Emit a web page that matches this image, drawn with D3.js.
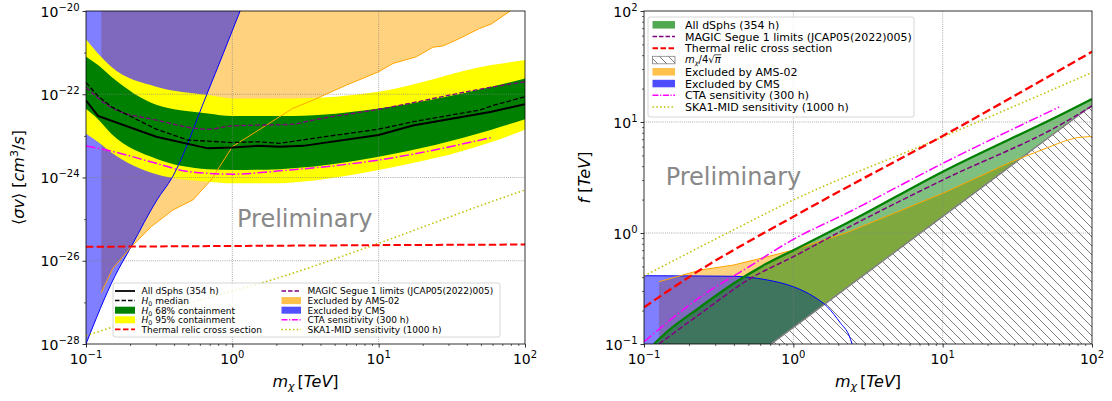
<!DOCTYPE html>
<html><head><meta charset="utf-8">
<script src="https://cdn.jsdelivr.net/npm/d3@7"></script>
<style>body{margin:0;background:#fff}svg{display:block}text{font-family:"DejaVu Sans",sans-serif}</style>
</head><body><svg id="c" width="1112" height="401"></svg>
<script>
// ---------------- LEFT PANEL DATA (log10 m [TeV], log10 <sigma v> [cm^3/s]) ----------------
const bandLogM=[-1,-0.918,-0.827,-0.52,-0.167,0,0.324,0.413,1.0,1.771,2.0];
const y95Hi=[-20.68,-21.02,-21.34,-21.82,-22.02,-22.10,-22.10,-22.10,-21.94,-21.30,-21.18];
const g68Hi=[-21.10,-21.30,-21.58,-22.25,-22.46,-22.52,-22.52,-22.52,-22.34,-21.82,-21.62];
const g68Lo=[-22.35,-22.60,-22.95,-23.55,-23.80,-23.82,-23.80,-23.78,-23.50,-22.85,-22.60];
const y95Lo=[-22.95,-23.15,-23.40,-23.92,-24.10,-24.14,-24.14,-24.12,-23.82,-23.15,-22.85];

const allLogM=[-1,-0.918,-0.52,-0.167,0,0.174,0.324,0.483,1.0,1.234,1.771,2.0];
const allSv=[-22.15,-22.52,-23.02,-23.30,-23.28,-23.24,-23.26,-23.24,-22.98,-22.75,-22.42,-22.24];

const medLogM=[-1,-0.918,-0.827,-0.52,-0.304,0,0.174,0.324,0.552,1.0,1.234,1.689,1.771,2.0];
const medSv=[-21.72,-22.04,-22.30,-22.84,-23.10,-23.16,-23.14,-23.18,-23.06,-22.84,-22.66,-22.38,-22.28,-22.06];

const magicLogM=[-1,-0.827,-0.52,-0.167,0,0.413,0.552,1.0,1.771,2.0];
const magicSv=[-21.83,-22.32,-22.62,-22.84,-22.76,-22.72,-22.62,-22.36,-21.83,-21.70];

const ctaLogM=[-1,-0.81,-0.52,-0.3,0,0.324,1.0,1.771];
const ctaSv=[-23.24,-23.38,-23.66,-23.86,-23.92,-23.84,-23.58,-23.04];

const relicLogM=[-1,0,1,2];
const relicSv=[-25.665,-25.645,-25.625,-25.61];

const skaLogM=[-1,-0.372,0.324,1.0,1.771,2.0];
const skaSv=[-27.8,-27.10,-26.40,-25.58,-24.58,-24.3];

const cmsLogM=[-1,-0.804,-0.691,-0.515,-0.411,-0.174,0.053];
const cmsSv=[-28,-26.38,-25.66,-24.54,-24.0,-22.0,-20.0];

const amsLogM=[-0.896,-0.816,-0.689,-0.554,-0.406,-0.27,-0.145,0,0.413,0.552,0.78,1.0,1.098,1.257,1.371,1.439,1.553,1.689,1.771,1.899];
const amsSv=[-26.77,-26.18,-25.66,-25.18,-24.78,-24.54,-24.06,-23.26,-22.34,-22.14,-21.78,-21.46,-21.26,-21.10,-20.87,-20.84,-20.66,-20.42,-20.31,-20.0];

// ---------------- RIGHT PANEL DATA (log10 m [TeV], log10 f [TeV]) ----------------
const rAllLogM=[-0.933,-0.844,-0.62,-0.398,-0.175,0.004,0.36,1.0,1.805,2.0];
const rAllF=[-1.0,-0.889,-0.664,-0.453,-0.273,-0.153,0.09,0.552,1.075,1.207];
const rMagicLogM=[-0.9,-0.62,-0.286,-0.001,0.36,1.0,1.805,2.0];
const rMagicF=[-1.0,-0.724,-0.408,-0.214,0.045,0.477,0.988,1.144];
const rCtaLogM=[-1,-0.62,-0.297,0.0,0.36,1.0,1.78];
const rCtaF=[-0.98,-0.574,-0.304,-0.057,0.18,0.627,1.135];
const rRelicLogM=[-1,-0.677,0.0,0.36,1.0,1.55,2.0];
const rRelicF=[-0.67,-0.378,0.147,0.413,0.874,1.288,1.633];
const rSkaLogM=[-1,-0.5,0,1,2];
const rSkaF=[-0.387,-0.04,0.297,0.865,1.446];
const rAmsLogM=[-0.9,-0.62,-0.398,-0.175,0.0,0.36,1.0,1.461,1.805,1.9,2.0];
const rAmsF=[-0.439,-0.333,-0.288,-0.214,-0.153,0.005,0.357,0.642,0.823,0.86,0.87];
const rCmsLogM=[-1,-0.4,-0.175,0.0,0.138,0.227,0.317,0.372,0.394];
const rCmsF=[-0.385,-0.39,-0.423,-0.484,-0.574,-0.664,-0.814,-0.919,-1.0];
const unitarityM=[0.1,100];        // m_chi / 4 sqrt(pi)
const unitarityF=[0.0141,14.1];

// tick labels
const xTickExp=[-1,0,1,2];
const yTickExpL=[-28,-26,-24,-22,-20];
const yTickExpR=[-1,0,1,2];

// ---------------- SETUP ----------------
const svg=d3.select("#c");
const defs=svg.append("defs");
const P=v=>Math.pow(10,v);
const zip=(a,b)=>a.map((v,i)=>[v,b[i]]);

const xL=d3.scaleLog().domain([0.1,100]).range([86,525]);
const yL=d3.scaleLog().domain([1e-28,1e-20]).range([344,11]);
const xR=d3.scaleLog().domain([0.1,100]).range([644,1092]);
const yR=d3.scaleLog().domain([0.1,100]).range([344,11]);

function clip(id,x,y){defs.append("clipPath").attr("id",id).append("rect")
  .attr("x",x.range()[0]).attr("y",y.range()[1]).attr("width",x.range()[1]-x.range()[0]).attr("height",y.range()[0]-y.range()[1]);}
clip("cl",xL,yL);clip("cr",xR,yR);

const pat=defs.append("pattern").attr("id","hatch").attr("patternUnits","userSpaceOnUse").attr("width",9).attr("height",9);
pat.append("rect").attr("width",9).attr("height",9).attr("fill","#fff");
pat.append("path").attr("d","M-2,-2L11,11M-2,7L2,11M7,-2L11,2").attr("stroke","#7c7c7c").attr("stroke-width",1);

function lineGen(x,y,curve){return d3.line().x(d=>x(P(d[0]))).y(d=>y(P(d[1]))).curve(curve||d3.curveLinear);}

function drawLine(g,x,y,pts,st,curve){
  g.append("path").attr("d",lineGen(x,y,curve)(pts)).attr("fill","none")
   .attr("stroke",st.c).attr("stroke-width",st.w).attr("stroke-dasharray",st.d||null);
}

const ST={
  all:{c:"#000",w:2},
  med:{c:"#000",w:1.3,d:"4.8,2.1"},
  magic:{c:"#800080",w:1.3,d:"4.8,2.1"},
  relic:{c:"#ff0000",w:2,d:"7.4,3.2"},
  cta:{c:"#ff00ff",w:1.5,d:"9.6,2.4,1.5,2.4"},
  ska:{c:"#bfbf00",w:1.5,d:"1.5,2.5"},
  cms:{c:"#0000ff",w:1},
  ams:{c:"#ffa500",w:1}
};

function grid(g,x,y,xs,ys){
  xs.forEach(v=>g.append("line").attr("x1",x(v)).attr("x2",x(v)).attr("y1",y.range()[0]).attr("y2",y.range()[1])
    .attr("stroke","#808080").attr("stroke-width",0.8).attr("stroke-dasharray","0.8,1.3"));
  ys.forEach(v=>g.append("line").attr("y1",y(v)).attr("y2",y(v)).attr("x1",x.range()[0]).attr("x2",x.range()[1])
    .attr("stroke","#808080").attr("stroke-width",0.8).attr("stroke-dasharray","0.8,1.3"));
}

function pow10(g,x,y,e,anchor){
  const t=g.append("text").attr("x",x).attr("y",y).attr("text-anchor",anchor).attr("font-size",14).attr("fill","#000");
  t.append("tspan").text("10");
  t.append("tspan").attr("dy",-6).attr("font-size",10).text(e<0?"\u2212"+(-e):String(e));
}

function axes(x,y,yMajorExp,yMinor){
  const g=svg.append("g");
  const minorX=[];for(let d=-1;d<2;d++)for(let k=2;k<10;k++)minorX.push(k*P(d));
  const ax=d3.axisBottom(x).tickValues(xTickExp.map(P)).tickSize(3.5).tickFormat("");
  const axm=d3.axisBottom(x).tickValues(minorX).tickSize(2).tickFormat("");
  const gx=g.append("g").attr("transform",`translate(0,${y.range()[0]})`).call(ax);
  const gxm=g.append("g").attr("transform",`translate(0,${y.range()[0]})`).call(axm);
  const ay=d3.axisLeft(y).tickValues(yMajorExp.map(P)).tickSize(3.5).tickFormat("");
  const aym=d3.axisLeft(y).tickValues(yMinor).tickSize(2).tickFormat("");
  const gy=g.append("g").attr("transform",`translate(${x.range()[0]},0)`).call(ay);
  const gym=g.append("g").attr("transform",`translate(${x.range()[0]},0)`).call(aym);
  [gx,gxm,gy,gym].forEach(s=>{s.select(".domain").remove();});
  [gx,gy].forEach(s=>s.selectAll(".tick line").attr("stroke-width",0.8));
  [gxm,gym].forEach(s=>s.selectAll(".tick line").attr("stroke-width",0.6));
  g.append("rect").attr("x",x.range()[0]).attr("y",y.range()[1]).attr("width",x.range()[1]-x.range()[0])
    .attr("height",y.range()[0]-y.range()[1]).attr("fill","none").attr("stroke","#000").attr("stroke-width",0.8);
  xTickExp.forEach(e=>pow10(g,x(P(e)),364,e,"middle"));
  yMajorExp.forEach(e=>pow10(g,x.range()[0]-6.5,y(P(e))+5.5,e,"end"));
}

// ---------------- LEFT PANEL ----------------
const gLeft=svg.append("g").attr("clip-path","url(#cl)");
const topY=yL.range()[1];
// AMS-02 excluded region (above line)
gLeft.append("path").attr("d",d3.area().x(d=>xL(P(d[0]))).y0(d=>yL(P(d[1]))).y1(topY)(zip(amsLogM,amsSv)))
 .attr("fill","#ffa500").attr("fill-opacity",0.5);
// CMS excluded region (left of line)
gLeft.append("path").attr("d",d3.area().x(d=>xL(P(d[0]))).y0(d=>yL(P(d[1]))).y1(topY).curve(d3.curveMonotoneX)(zip(cmsLogM,cmsSv)))
 .attr("fill","#0000ff").attr("fill-opacity",0.5);
// containment bands
const bandArea=(lo,hi)=>d3.area().x(d=>xL(P(d[0]))).y0(d=>yL(P(d[1]))).y1(d=>yL(P(d[2]))).curve(d3.curveMonotoneX)
  (bandLogM.map((m,i)=>[m,lo[i],hi[i]]));
gLeft.append("path").attr("d",bandArea(y95Lo,y95Hi)).attr("fill","#ffff00");
gLeft.append("path").attr("d",bandArea(g68Lo,g68Hi)).attr("fill","#008000");
grid(gLeft,xL,yL,[1,10],[1e-26,1e-24,1e-22]);
drawLine(gLeft,xL,yL,zip(cmsLogM,cmsSv),ST.cms,d3.curveMonotoneX);
drawLine(gLeft,xL,yL,zip(amsLogM,amsSv),ST.ams);
drawLine(gLeft,xL,yL,zip(skaLogM,skaSv),ST.ska,d3.curveMonotoneX);
drawLine(gLeft,xL,yL,zip(relicLogM,relicSv),ST.relic);
drawLine(gLeft,xL,yL,zip(ctaLogM,ctaSv),ST.cta,d3.curveMonotoneX);
drawLine(gLeft,xL,yL,zip(magicLogM,magicSv),ST.magic,d3.curveMonotoneX);
drawLine(gLeft,xL,yL,zip(medLogM,medSv),ST.med);
drawLine(gLeft,xL,yL,zip(allLogM,allSv),ST.all);

svg.append("text").attr("x",237).attr("y",226.7).attr("font-size",24).attr("fill","#888").text("Preliminary");

axes(xL,yL,yTickExpL,[1e-27,1e-25,1e-23,1e-21]);

// ---------------- RIGHT PANEL ----------------
const gRight=svg.append("g").attr("clip-path","url(#cr)");
const botY=yR.range()[0];
gRight.append("path").attr("d",d3.area().x(d=>xR(P(d[0]))).y0(botY).y1(d=>yR(P(d[1])))(zip(rAmsLogM,rAmsF)))
 .attr("fill","#ffa500").attr("fill-opacity",0.5);
gRight.append("path").attr("d",d3.area().x(d=>xR(P(d[0]))).y0(botY).y1(d=>yR(P(d[1]))).curve(d3.curveMonotoneX)(zip(rCmsLogM,rCmsF)))
 .attr("fill","#0000ff").attr("fill-opacity",0.5);
const uniPts=unitarityM.map((m,i)=>[Math.log10(m),Math.log10(unitarityF[i])]);
const greenPoly=zip(rAllLogM,rAllF).concat(uniPts.slice().reverse());
gRight.append("path").attr("d",lineGen(xR,yR)(greenPoly)+"Z").attr("fill","#008000").attr("fill-opacity",0.5);
const hatchPoly=uniPts.concat([[2,-2]]);
gRight.append("path").attr("d",lineGen(xR,yR)(hatchPoly)+"Z").attr("fill","url(#hatch)");
gRight.append("path").attr("d",lineGen(xR,yR)(uniPts)).attr("fill","none").attr("stroke","#808080").attr("stroke-width",1.5);
grid(gRight,xR,yR,[1,10],[1,10]);
drawLine(gRight,xR,yR,zip(rCmsLogM,rCmsF),ST.cms,d3.curveMonotoneX);
drawLine(gRight,xR,yR,zip(rAmsLogM,rAmsF),ST.ams);
drawLine(gRight,xR,yR,zip(rSkaLogM,rSkaF),ST.ska,d3.curveMonotoneX);
drawLine(gRight,xR,yR,zip(rRelicLogM,rRelicF),{c:"#ff0000",w:2.3,d:"8.5,3.7"},d3.curveMonotoneX);
drawLine(gRight,xR,yR,zip(rCtaLogM,rCtaF),ST.cta,d3.curveMonotoneX);
drawLine(gRight,xR,yR,zip(rMagicLogM,rMagicF),{c:"#800080",w:1.5,d:"5.5,2.4"},d3.curveMonotoneX);
drawLine(gRight,xR,yR,zip(rAllLogM,rAllF),{c:"#008000",w:2.3},d3.curveMonotoneX);

svg.append("text").attr("x",665.7).attr("y",185).attr("font-size",24).attr("fill","#888").text("Preliminary");

const minorR=[];for(let d=-1;d<2;d++)for(let k=2;k<10;k++)minorR.push(k*P(d));
axes(xR,yR,yTickExpR,minorR);

// ---------------- AXIS LABELS ----------------
function xlabel(cx){
  const t=svg.append("text").attr("x",cx).attr("y",386.5).attr("text-anchor","middle").attr("font-size",16);
  t.append("tspan").attr("font-style","italic").text("m");
  t.append("tspan").attr("font-style","italic").attr("font-size",11).attr("dy",3.5).text("\u03c7");
  t.append("tspan").attr("dy",-3.5).attr("dx",3).text("[");
  t.append("tspan").attr("font-style","italic").text("TeV");
  t.append("tspan").text("]");
}
xlabel(305.5);xlabel(868);
{
  const g=svg.append("g").attr("transform","translate(24,177.5) rotate(-90)");
  const t=g.append("text").attr("text-anchor","middle").attr("font-size",16);
  t.append("tspan").text("\u27e8");
  t.append("tspan").attr("font-style","italic").text("\u03c3v");
  t.append("tspan").text("\u27e9 [");
  t.append("tspan").attr("font-style","italic").text("cm");
  t.append("tspan").attr("font-size",11).attr("dy",-6).text("3");
  t.append("tspan").attr("dy",6).text("/");
  t.append("tspan").attr("font-style","italic").text("s");
  t.append("tspan").text("]");
}
{
  const g=svg.append("g").attr("transform","translate(590,177.5) rotate(-90)");
  const t=g.append("text").attr("text-anchor","middle").attr("font-size",16);
  t.append("tspan").attr("font-style","italic").text("f");
  t.append("tspan").text(" [");
  t.append("tspan").attr("font-style","italic").text("TeV");
  t.append("tspan").text("]");
}

// ---------------- LEGENDS ----------------
function handle(g,x0,x1,yc,h,st){
  if(st.patch){g.append("rect").attr("x",x0).attr("y",yc-h/2).attr("width",x1-x0).attr("height",h)
      .attr("fill",st.patch).attr("stroke",st.edge||"none").attr("stroke-width",0.8);}
  else g.append("line").attr("x1",x0).attr("x2",x1).attr("y1",yc).attr("y2",yc)
      .attr("stroke",st.c).attr("stroke-width",st.w).attr("stroke-dasharray",st.d||null);
}
function label(g,x,y,fs,parts){
  const t=g.append("text").attr("x",x).attr("y",y).attr("font-size",fs);
  parts.forEach(p=>{const s=t.append("tspan").text(p.t);if(p.i)s.attr("font-style","italic");
    if(p.dy)s.attr("dy",p.dy);if(p.fs)s.attr("font-size",p.fs);});
  return t;
}
// left legend
{
  const g=svg.append("g");
  g.append("rect").attr("x",113).attr("y",283).attr("width",387).attr("height",54).attr("rx",2)
   .attr("fill","#fff").attr("fill-opacity",0.8).attr("stroke","#cccccc").attr("stroke-width",0.8);
  const rows=[291,300.6,310.2,319.8,329.4];
  const H0=(rest)=>[{t:"H",i:1},{t:"0",fs:6.3,dy:2},{t:rest,dy:-2}];
  const col1=[
    [{c:"#000",w:1.8},[{t:"All dSphs (354 h)"}]],
    [{c:"#000",w:1.5,d:"4.5,2"},H0(" median")],
    [{patch:"#008000"},H0(" 68% containment")],
    [{patch:"#ffff00"},H0(" 95% containment")],
    [{c:"#ff0000",w:1.8,d:"5.5,2.5"},[{t:"Thermal relic cross section"}]]];
  const col2=[
    [{c:"#800080",w:1.5,d:"4.5,2"},[{t:"MAGIC Segue 1 limits (JCAP05(2022)005)"}]],
    [{patch:"#ffc04c"},[{t:"Excluded by AMS-02"}]],
    [{patch:"#5050ff"},[{t:"Excluded by CMS"}]],
    [{c:"#ff00ff",w:1.5,d:"6,1.6,1.2,1.6"},[{t:"CTA sensitivity (300 h)"}]],
    [{c:"#bfbf00",w:1.5,d:"1.5,2.3"},[{t:"SKA1-MID sensitivity (1000 h)"}]]];
  col1.forEach((r,i)=>{handle(g,115,135,rows[i],7,r[0]);label(g,141.5,rows[i]+3.3,9,r[1]);});
  col2.forEach((r,i)=>{handle(g,281.5,301,rows[i],7,r[0]);label(g,307.5,rows[i]+3.3,9,r[1]);});
}
// right legend
{
  const g=svg.append("g");
  g.append("rect").attr("x",648).attr("y",17).attr("width",266).attr("height",100).attr("rx",2)
   .attr("fill","#fff").attr("fill-opacity",0.8).attr("stroke","#cccccc").attr("stroke-width",0.8);
  const rows=d3.range(8).map(i=>24.8+i*11.75);
  const items=[
    [{patch:"#50a850"},[{t:"All dSphs (354 h)"}]],
    [{c:"#800080",w:1.5,d:"4.5,2"},[{t:"MAGIC Segue 1 limits (JCAP05(2022)005)"}]],
    [{c:"#ff0000",w:2,d:"5.5,2.5"},[{t:"Thermal relic cross section"}]],
    [{patch:"url(#hatch)",edge:"#808080"},null],
    [{patch:"#ffc04c"},[{t:"Excluded by AMS-02"}]],
    [{patch:"#4d4dff"},[{t:"Excluded by CMS"}]],
    [{c:"#ff00ff",w:1.5,d:"6,1.6,1.2,1.6"},[{t:"CTA sensitivity (300 h)"}]],
    [{c:"#bfbf00",w:1.5,d:"1.5,2.3"},[{t:"SKA1-MID sensitivity (1000 h)"}]]];
  items.forEach((r,i)=>{
    handle(g,652.5,675,rows[i],7.5,r[0]);
    if(r[1])label(g,685,rows[i]+4,11,r[1]);
    else{
      const t=label(g,685,rows[i]+3.4,10,[{t:"m",i:1},{t:"\u03c7",i:1,fs:6.5,dy:1.6},{t:"/4\u221a",dy:-1.6},{t:"\u03c0",i:1}]);
      const n=t.node();
      const nc=n.getNumberOfChars();
      const x0=n.getStartPositionOfChar(nc-1).x, x1=n.getEndPositionOfChar(nc-1).x;
      g.append("line").attr("x1",x0-0.5).attr("x2",x1+0.5).attr("y1",rows[i]-5.3).attr("y2",rows[i]-5.3)
       .attr("stroke","#000").attr("stroke-width",0.7);
    }
  });
}
</script></body></html>
